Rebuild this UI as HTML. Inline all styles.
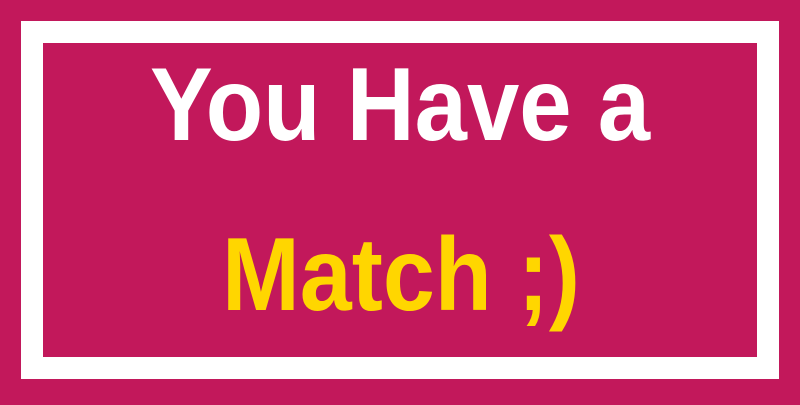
<!DOCTYPE html>
<html><head><meta charset="utf-8"><style>
html,body{margin:0;padding:0;}
body{width:800px;height:400px;background:#c2185b;overflow:hidden;}
</style></head><body>
<svg width="800" height="400" viewBox="0 0 800 400">
<rect x="0" y="0" width="800" height="400" fill="#c2185b"/>
<rect x="32" y="32" width="736" height="336" fill="none" stroke="#ffffff" stroke-width="22"/>
<text x="400" y="140" text-anchor="middle" font-family="Liberation Sans, sans-serif" font-weight="bold" font-size="104" fill="#ffffff" textLength="500" lengthAdjust="spacingAndGlyphs">You Have a</text>
<text x="401" y="310" text-anchor="middle" font-family="Liberation Sans, sans-serif" font-weight="bold" font-size="104" fill="#ffd600" textLength="358" lengthAdjust="spacingAndGlyphs">Match ;)</text>
</svg>
</body></html>
